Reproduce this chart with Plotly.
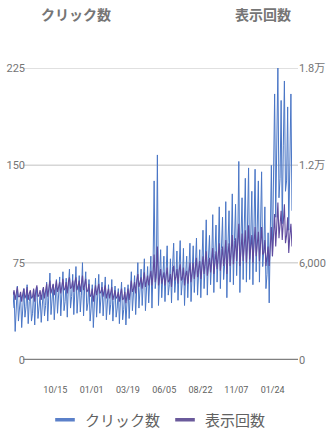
import plotly.graph_objects as go
import pandas as pd

# ---- data (three points per week: midweek, peak, weekend trough) ----
start_date = "2023-07-16"
clicks = [
    40, 52, 22, 44, 57, 30, 38, 50, 25, 47, 55, 33, 41, 58, 28, 45, 52, 30, 36, 54, 27, 48, 56, 32,
    39, 50, 29, 46, 55, 34, 42, 60, 30, 50, 67, 35, 44, 58, 31, 53, 62, 36,
    47, 64, 34, 55, 68, 38, 45, 63, 33, 57, 70, 40, 49, 66, 35, 54, 72, 36, 52, 65, 37, 50, 75, 34,
    56, 68, 38, 44, 62, 30, 40, 58, 25,
    49, 63, 33, 52, 66, 36, 45, 60, 34, 50, 64, 31, 47, 58, 35, 43, 62, 30, 46, 57, 33, 40, 55, 28,
    47, 60, 31, 39, 56, 27, 45, 58, 32,
    52, 68, 38, 48, 65, 35, 58, 75, 40, 54, 70, 42, 56, 78, 38, 60, 72, 44, 58, 80, 40,
    70, 138, 55, 64, 158, 42,
    66, 85, 48, 60, 80, 45, 68, 88, 50, 58, 78, 44, 72, 90, 52, 63, 84, 46, 70, 92, 50, 61, 86, 42,
    66, 80, 48, 64, 90, 45, 72, 88, 52, 69, 94, 50, 67, 85, 48,
    75, 100, 55, 72, 108, 50, 78, 96, 58, 76, 112, 52, 82, 104, 60, 80, 118, 55, 86, 110, 62,
    74, 122, 48, 88, 115, 60, 85, 128, 58, 92, 120, 65, 90, 153, 52, 94, 125, 62,
    92, 140, 60, 98, 148, 62, 90, 130, 58, 104, 147, 68, 95, 138, 60, 106, 145, 72, 84, 118, 55,
    66, 98, 44,
    108, 150, 80, 150, 205, 110, 160, 225, 125, 140, 200, 105, 165, 215, 130, 138, 195, 100, 150, 205, 115,
]
impressions = [
    4000, 4300, 3700, 4200, 4500, 3900, 3900, 4200, 3600, 4100, 4400, 3800, 4000, 4500, 3700,
    4100, 4300, 3800, 3900, 4400, 3600, 4300, 4600, 3900, 4000, 4300, 3700, 4200, 4500, 3800,
    4400, 4700, 3900, 4500, 4900, 4100, 4400, 4700, 4000, 4600, 4900, 4200,
    4500, 4800, 4100, 4600, 5000, 4300, 4400, 4800, 4100, 4800, 5100, 4400, 4500, 4900, 4200,
    4800, 5100, 4300, 4600, 4900, 4200, 4700, 5200, 4300, 4700, 5000, 4200, 4300, 4700, 3900,
    4000, 4400, 3600,
    4300, 4600, 4000, 4400, 4700, 4100, 4200, 4500, 3900, 4300, 4600, 3800, 4100, 4400, 3800,
    4100, 4500, 3700, 4000, 4300, 3800, 3900, 4200, 3600, 4100, 4400, 3700, 3800, 4200, 3500,
    4000, 4400, 3700,
    4500, 4900, 4200, 4400, 4800, 4100, 4900, 5300, 4500, 4800, 5100, 4400, 4900, 5400, 4500,
    4900, 5200, 4600, 5000, 5500, 4600,
    5300, 6500, 4800, 5400, 7000, 4600,
    5100, 5600, 4700, 5000, 5400, 4600, 5300, 5700, 4800, 4900, 5300, 4500, 5400, 5800, 4900,
    5100, 5600, 4700, 5500, 5900, 4900, 5100, 5700, 4600, 5200, 5500, 4700, 5400, 6000, 4800,
    5600, 6000, 5000, 5700, 6300, 5100, 5600, 6100, 5000,
    5800, 6400, 5300, 5900, 6700, 5200, 5900, 6300, 5400, 6100, 6900, 5300, 6200, 6700, 5600,
    6300, 7200, 5500, 6400, 7000, 5800, 6300, 7400, 5300, 6500, 7200, 5800, 6800, 7700, 5900,
    6800, 7500, 6100, 7000, 8400, 5800, 7000, 7800, 6100,
    7000, 8000, 6000, 7300, 8300, 6200, 6900, 7700, 6000, 7300, 8200, 6400, 7000, 7900, 6100,
    7400, 8200, 6500, 6600, 7400, 5800, 6400, 7000, 5800,
    7300, 8200, 6400, 8000, 9000, 7000, 8600, 9700, 7500, 8300, 9200, 7400, 8400, 9600, 7200,
    7700, 8800, 6600, 7700, 8400, 7000,
]
dates = pd.date_range(start_date, periods=len(clicks), freq="56h")

x_tick_dates = ["2023-10-15", "2024-01-01", "2024-03-19", "2024-06-05", "2024-08-22", "2024-11-07", "2025-01-24"]
x_tick_text = ["10/15", "01/01", "03/19", "06/05", "08/22", "11/07", "01/24"]
left_ticks = [0, 75, 150, 225]
right_ticks = [0, 6000, 12000, 18000]
right_tick_text = ["0", "6,000", "1.2万", "1.8万"]
series_names = ["クリック数", "表示回数"]

# ---- style ----
FONT = "Roboto, 'Noto Sans CJK JP', sans-serif"
JP = "'Noto Sans CJK JP', Roboto, sans-serif"
GRAY = "#757575"
C_CLICK = "#4a76c6"
C_IMP = "#5e4a9e"
C_CLICK_LEG = "#5b80c9"
C_IMP_LEG = "#6a5a9b"

W, H = 328, 434
ML, MR, MT, MB = 13, 36, 68, 74
pw = W - ML - MR
ph = H - MT - MB
gx0 = (23 - ML) / pw
gx1 = (298 - ML) / pw

fig = go.Figure()
fig.add_trace(go.Scatter(x=dates, y=clicks, name=series_names[0], mode="lines", showlegend=False,
                         line=dict(color=C_CLICK, width=1), yaxis="y"))
fig.add_trace(go.Scatter(x=dates, y=impressions, name=series_names[1], mode="lines", showlegend=False,
                         line=dict(color=C_IMP, width=1.1), yaxis="y2"))
# legend entries with short thick line symbols
for nm, col in zip(series_names, [C_CLICK_LEG, C_IMP_LEG]):
    fig.add_trace(go.Scatter(x=[None], y=[None], name=nm, mode="markers", showlegend=True,
                             marker=dict(symbol="line-ew", size=14, color=col,
                                         line=dict(color=col, width=3.5))))

shapes = []
for v in left_ticks[1:]:
    shapes.append(dict(type="line", xref="paper", yref="y", x0=gx0, x1=gx1, y0=v, y1=v,
                       line=dict(color="#d6d6d6", width=1.5), layer="below"))
shapes.append(dict(type="line", xref="paper", yref="y", x0=gx0, x1=gx1, y0=0, y1=0,
                   line=dict(color="#808080", width=2.5), layer="above"))

fig.update_layout(
    width=W, height=H,
    margin=dict(l=ML, r=MR, t=MT, b=MB, autoexpand=False),
    paper_bgcolor="white", plot_bgcolor="white",
    font=dict(family=FONT, color=GRAY, size=11),
    shapes=shapes,
    xaxis=dict(type="date", range=[dates[0], dates[-1]], tickvals=x_tick_dates, ticktext=x_tick_text,
               showgrid=False, showline=False, zeroline=False, ticks="", automargin=False,
               tickfont=dict(size=9, color="#616161"), ticklabelstandoff=23),
    yaxis=dict(range=[0, 225], tickvals=left_ticks, showgrid=False, zeroline=False, showline=False,
               ticks="", automargin=False, tickfont=dict(size=11, color=GRAY), ticklabelstandoff=-13),
    yaxis2=dict(range=[0, 18000], tickvals=right_ticks, ticktext=right_tick_text, overlaying="y",
                side="right", showgrid=False, zeroline=False, showline=False, ticks="", automargin=False,
                tickfont=dict(size=11, color=GRAY), ticklabelstandoff=6),
    legend=dict(orientation="h", x=(158 - ML) / pw, xanchor="center", y=-(420 - (H - MB)) / ph,
                yanchor="middle", font=dict(family=JP, size=15, color="#616161"),
                itemwidth=30, tracegroupgap=0),
    showlegend=True,
    annotations=[
        dict(text=series_names[0], xref="paper", yref="paper", x=(76 - ML) / pw, y=(H - MB - 14) / ph,
             xanchor="center", yanchor="middle", showarrow=False,
             font=dict(family=JP, size=14, color=GRAY, weight=600)),
        dict(text=series_names[1], xref="paper", yref="paper", x=(263 - ML) / pw, y=(H - MB - 14) / ph,
             xanchor="center", yanchor="middle", showarrow=False,
             font=dict(family=JP, size=14, color=GRAY, weight=600)),
    ],
)

fig.write_html("out.html")
